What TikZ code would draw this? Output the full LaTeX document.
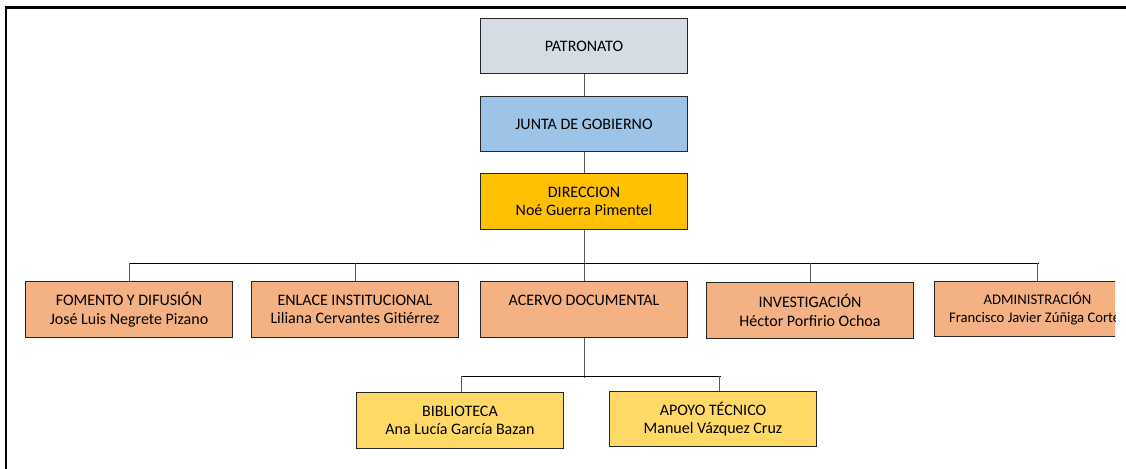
\documentclass[tikz,border=0pt]{standalone}
\usepackage{fontspec}
\setmainfont{Carlito}
\definecolor{patronatoGray}{HTML}{D6DCE4}
\definecolor{juntaBlue}{HTML}{9DC3E6}
\definecolor{direccionGold}{HTML}{FFC000}
\definecolor{areaOrange}{HTML}{F4B183}
\definecolor{unitYellow}{HTML}{FFD966}

\begin{document}
\begin{tikzpicture}
[x=0.75pt,y=-0.75pt,
  boxDecorate/.style={shape=rectangle,draw=black!85,line width=0.75pt,
    minimum width=155.25pt,minimum height=41.5pt,inner sep=0pt,
    align=center,font=\fontsize{12}{13.8}\selectfont},%
  lineDecorate/.style={-,draw=black!65,line width=0.7pt},%
  barDecorate/.style={-,draw=black,line width=0.7pt}]
\useasboundingbox (0,0) rectangle (1126,468);
%% frame
\draw[line width=1.6pt] (6,470) -- (6,7.5) -- (1130,7.5);
%% boxes
\foreach \nodename/\x/\y/\col/\txt in {
  patronato/584/46/patronatoGray/PATRONATO,
  junta/584/124/juntaBlue/JUNTA DE GOBIERNO,
  direccion/584/201.5/direccionGold/DIRECCION\\Noé Guerra Pimentel,
  fomento/129/309.5/areaOrange/FOMENTO Y DIFUSIÓN\\José Luis Negrete Pizano,
  enlace/355/309.5/areaOrange/ENLACE INSTITUCIONAL\\Liliana Cervantes Gitiérrez,
  acervo/584/309.5/areaOrange/ACERVO DOCUMENTAL\\\mbox{},
  investigacion/810/310.5/areaOrange/INVESTIGACIÓN\\Héctor Porfirio Ochoa,
  biblioteca/460/420.5/unitYellow/BIBLIOTECA\\Ana Lucía García Bazan,
  apoyo/713/419/unitYellow/APOYO TÉCNICO\\Manuel Vázquez Cruz}
{
  \node (\nodename) at (\x,\y) [boxDecorate,fill=\col] {\txt};
}
\begin{scope}
\clip (0,0) rectangle (1115,468);
\node (administracion) at (1037.5,309) [boxDecorate,fill=areaOrange,
  font=\fontsize{11}{13.5}\selectfont] {ADMINISTRACIÓN\\Francisco Javier Zúñiga Cortez};
\end{scope}
%% edges or lines
\coordinate (barLeft) at (fomento.north |- 0,263);
\coordinate (barRight) at ([xshift=1pt]administracion.north |- 0,263);
\coordinate (subLeft) at (461.5,376);
\coordinate (subRight) at (720.5,376);
\coordinate (subTrunk) at (584,378);
\path
\foreach \startnode/\endnode in {patronato/junta, junta/direccion, direccion/acervo, acervo/subTrunk}
{
  (\startnode) edge[lineDecorate] (\endnode)
};
\draw[barDecorate] (barLeft) -- (barRight);
\draw[barDecorate] (subLeft) -- (subRight);
\foreach \nodename in {fomento, enlace, investigacion, administracion}
{
  \draw[lineDecorate] (\nodename.north) -- (\nodename.north |- barLeft);
}
\draw[lineDecorate] (subLeft) -- (subLeft |- biblioteca.north);
\draw[lineDecorate] ([xshift=-1pt]subRight) -- ([xshift=-1pt]subRight |- apoyo.north);
\end{tikzpicture}
\end{document}
